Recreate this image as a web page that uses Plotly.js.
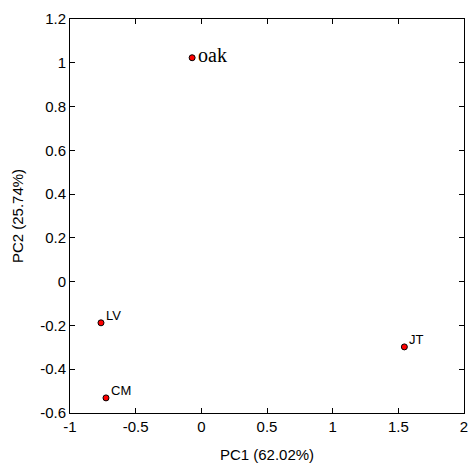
<!DOCTYPE html>
<html>
<head>
<meta charset="utf-8">
<script src="https://cdn.plot.ly/plotly-3.0.1.min.js"></script>
<style>
  html, body { margin: 0; padding: 0; background: #fff; }
  #chart { width: 472px; height: 465px; }
</style>
</head>
<body>
<div id="chart"></div>
<script>
// PCA scores of the four sites
const sites = ['oak', 'LV', 'CM', 'JT'];
const pc1 = [-0.07, -0.764, -0.726, 1.546];
const pc2 = [1.023, -0.188, -0.531, -0.298];

const xTicks = [-1, -0.5, 0, 0.5, 1, 1.5, 2];
const yTicks = [-0.6, -0.4, -0.2, 0, 0.2, 0.4, 0.6, 0.8, 1, 1.2];

const sans = 'Liberation Sans, Arial, sans-serif';
const serif = 'Liberation Serif, Times New Roman, serif';

const trace = {
  x: pc1,
  y: pc2,
  type: 'scatter',
  mode: 'markers',
  marker: { color: '#ff0000', size: 6, line: { color: '#000', width: 1 } },
  hoverinfo: 'skip',
  cliponaxis: false
};

// site labels beside each point; the first one is set larger in a serif face
const annotations = sites.map((s, i) => {
  const big = i === 0;
  return {
    x: pc1[i], y: pc2[i], xref: 'x', yref: 'y',
    text: s, showarrow: false,
    xanchor: 'left', yanchor: 'middle',
    xshift: big ? 4 : 3,
    yshift: big ? 3 : 7,
    font: big
      ? { family: serif, size: 20, color: '#000' }
      : { family: sans, size: 13, color: '#000' }
  };
});

const axisCommon = {
  showgrid: false,
  zeroline: false,
  showline: true,
  mirror: 'ticks',
  linecolor: '#000',
  linewidth: 1,
  ticks: 'inside',
  ticklen: 5,
  tickcolor: '#000',
  tickfont: { family: sans, size: 15, color: '#000' }
};

const layout = {
  width: 472,
  height: 465,
  margin: { l: 70, r: 8, t: 19, b: 52 },
  paper_bgcolor: '#fff',
  plot_bgcolor: '#fff',
  showlegend: false,
  xaxis: Object.assign({}, axisCommon, {
    range: [-1, 2],
    tickvals: xTicks,
    ticktext: xTicks.map(String),
    title: { text: 'PC1 (62.02%)', standoff: 15, font: { family: sans, size: 15, color: '#000' } }
  }),
  yaxis: Object.assign({}, axisCommon, {
    range: [-0.6, 1.2],
    tickvals: yTicks,
    ticktext: yTicks.map(v => String(Math.round(v * 10) / 10)),
    title: { text: 'PC2 (25.74%)', standoff: 12, font: { family: sans, size: 15, color: '#000' } }
  }),
  annotations: annotations
};

Plotly.newPlot('chart', [trace], layout, { displayModeBar: false, staticPlot: true });
</script>
</body>
</html>
